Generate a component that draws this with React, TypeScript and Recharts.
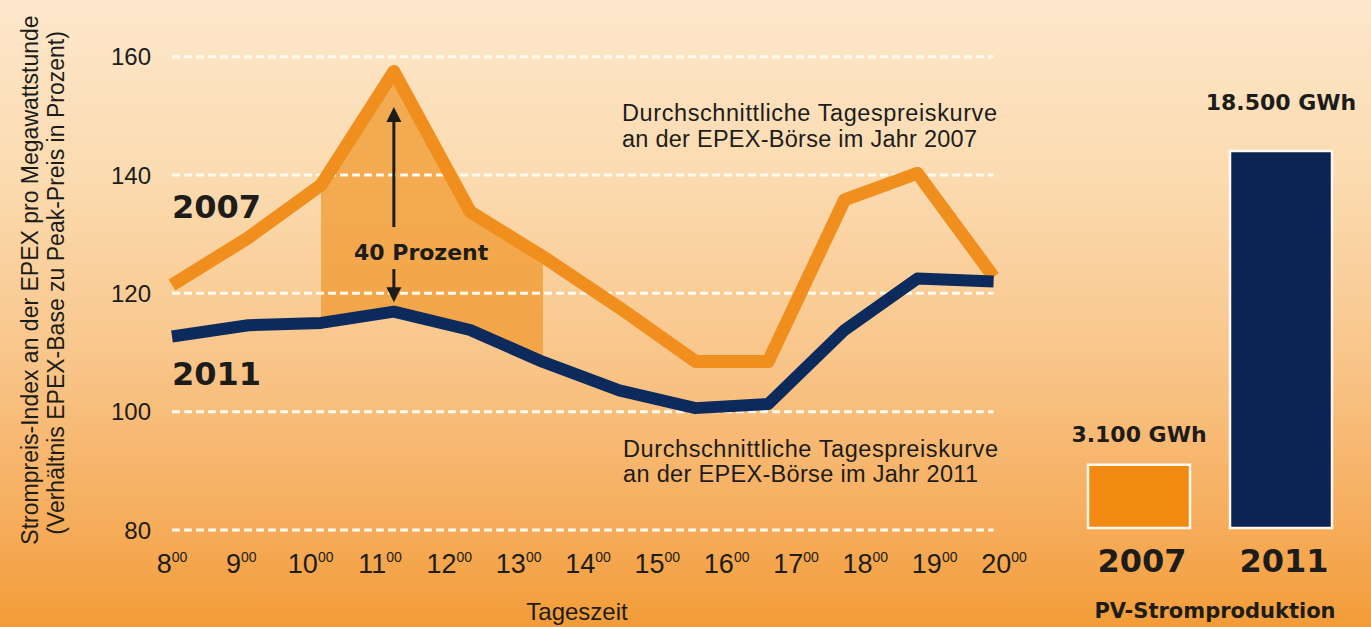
import React from 'react'
import {
  ComposedChart,
  Line,
  Area,
  XAxis,
  YAxis,
  ReferenceLine,
  Label,
  BarChart,
  Bar,
  Cell,
  LabelList,
} from 'recharts'

// Tageszeit of each measured point (hours) and the two day curves
const hours = [8, 9.1, 10.15, 11.2, 12.3, 13.35, 14.45, 15.55, 16.6, 17.7, 18.75, 19.85]
const price2007 = [121.4, 129.4, 138.3, 157.5, 133.8, 126.2, 117.6, 108.5, 108.5, 135.8, 140.3, 122.8]
const price2011 = [112.7, 114.6, 115.0, 116.9, 113.8, 108.4, 103.6, 100.6, 101.3, 113.8, 122.5, 122.0]
const hourTicks = [8, 9, 10, 11, 12, 13, 14, 15, 16, 17, 18, 19, 20]
const priceTicks = [80, 100, 120, 140, 160]
// first and last index of the shaded peak window
const peakWindow = [2, 5]
// arrow: top tip, top tail, bottom tail, bottom tip (index units)
const arrowSpan = [151.5, 131.2, 124.1, 118.5]

// PV-Stromproduktion
const pvYears = ['2007', '2011']
const pvGwh = [3100, 18500]
const pvColors = ['#f28a12', '#0b2453']
const pvLabelGap = [23, 41]

const ORANGE = '#f08e1e'
const NAVY = '#0c2a5c'
const INK = '#1c1c1a'
const SANS = '"Liberation Sans", Arial, sans-serif'
const BOLD = '"DejaVu Sans", sans-serif'

const priceData = hours.map((h, i) => ({
  hour: h,
  y2007: price2007[i],
  y2011: price2011[i],
  gap: i >= peakWindow[0] && i <= peakWindow[1] ? [price2011[i], price2007[i]] : null,
}))

const pvData = pvYears.map((y, i) => ({ year: y, gwh: pvGwh[i] }))

const fmtGwh = (v: number) => String(v).replace(/\B(?=(\d{3})+(?!\d))/g, '.') + ' GWh'

function HourTick(props: any) {
  const { x, y, payload } = props
  return (
    <text x={x} y={y + 43} textAnchor="middle" fill={INK} fontFamily={SANS} fontSize={27}>
      <tspan>{payload.value}</tspan>
      <tspan dy={-11} fontSize={14}>00</tspan>
    </text>
  )
}

function YearTick(props: any) {
  const { x, y, payload } = props
  return (
    <text x={x + 3} y={y + 44} textAnchor="middle" fill={INK} fontFamily={BOLD} fontWeight="bold" fontSize={32}>
      {payload.value}
    </text>
  )
}

function ArrowShape(props: any) {
  const { x1, y1, y2 } = props
  const dir = Math.sign(y1 - y2) // tip is the first point
  const head = 15
  return (
    <g>
      <line x1={x1} y1={y2} x2={x1} y2={y1 - dir * head * 0.7} stroke={INK} strokeWidth={3} />
      <polygon points={`${x1},${y1} ${x1 - 7.5},${y1 - dir * head} ${x1 + 7.5},${y1 - dir * head}`} fill={INK} />
    </g>
  )
}

function GwhLabel(props: any) {
  const { x, y, width, value, index } = props
  return (
    <text x={x + width / 2} y={y - pvLabelGap[index]} textAnchor="middle" fill={INK} fontFamily={BOLD} fontWeight="bold" fontSize={22}>
      {fmtGwh(value)}
    </text>
  )
}

export default function App() {
  const peakHour = hours[price2007.indexOf(Math.max(...price2007))]
  return (
    <div
      style={{
        position: 'absolute',
        left: 0,
        top: 0,
        width: 1371,
        height: 627,
        overflow: 'hidden',
        background: 'linear-gradient(to bottom, #fde7cb 0%, #fbdbb0 28%, #f9c78d 55%, #f6b062 80%, #f39c38 100%)',
      }}
    >
      <div style={{ position: 'absolute', left: 0, top: 0 }}>
        <ComposedChart width={1040} height={627} data={priceData} margin={{ top: 56.7, right: 36, bottom: 0, left: 0 }}>
          <XAxis
            dataKey="hour"
            type="number"
            domain={[8, 20]}
            ticks={hourTicks}
            interval={0}
            height={97}
            tickLine={false}
            axisLine={false}
            tickSize={0}
            tickMargin={0}
            tick={<HourTick />}
          >
            <Label
              content={() => (
                <text x={577} y={620} textAnchor="middle" fill={INK} fontFamily={SANS} fontSize={24}>
                  Tageszeit
                </text>
              )}
            />
          </XAxis>
          <YAxis
            type="number"
            domain={[80, 160]}
            ticks={priceTicks}
            width={172}
            tickLine={false}
            axisLine={false}
            tickSize={0}
            tickMargin={21}
            tick={{ fill: INK, fontSize: 24, fontFamily: SANS }}
          >
            <Label
              content={() => (
                <g fill={INK} fontFamily={SANS} fontSize={23}>
                  <text x={38} y={280} transform="rotate(-90 38 280)" textAnchor="middle">
                    Strompreis-Index an der EPEX pro Megawattstunde
                  </text>
                  <text x={64} y={283} transform="rotate(-90 64 283)" textAnchor="middle">
                    (Verhältnis EPEX-Base zu Peak-Preis in Prozent)
                  </text>
                </g>
              )}
            />
          </YAxis>
          {priceTicks.map((v) => (
            <ReferenceLine
              key={v}
              segment={[
                { x: hours[0], y: v },
                { x: hours[hours.length - 1], y: v },
              ]}
              stroke="#fffaf0"
              strokeWidth={3}
              strokeDasharray="8 4"
            />
          ))}
          <Area
            dataKey="gap"
            type="linear"
            fill="#f09a30"
            fillOpacity={0.75}
            stroke="none"
            connectNulls={false}
            dot={false}
            activeDot={false}
            isAnimationActive={false}
          />
          <Line
            dataKey="y2007"
            type="linear"
            stroke={ORANGE}
            strokeWidth={13}
            strokeLinejoin="round"
            dot={false}
            activeDot={false}
            isAnimationActive={false}
          />
          <Line
            dataKey="y2011"
            type="linear"
            stroke={NAVY}
            strokeWidth={12}
            strokeLinejoin="round"
            dot={false}
            activeDot={false}
            isAnimationActive={false}
          />
          <ReferenceLine
            segment={[
              { x: peakHour, y: arrowSpan[0] },
              { x: peakHour, y: arrowSpan[1] },
            ]}
            shape={ArrowShape}
          />
          <ReferenceLine
            segment={[
              { x: peakHour, y: arrowSpan[3] },
              { x: peakHour, y: arrowSpan[2] },
            ]}
            shape={ArrowShape}
          />
        </ComposedChart>
      </div>

      <div style={{ position: 'absolute', left: 1040, top: 0 }}>
        <BarChart width={331} height={627} data={pvData} margin={{ top: 151, right: 19, bottom: 0, left: 28 }}>
          <XAxis
            dataKey="year"
            height={99}
            interval={0}
            tickLine={false}
            axisLine={false}
            tickSize={0}
            tickMargin={0}
            tick={<YearTick />}
          >
            <Label
              content={(p: any) => (
                <text
                  x={p.viewBox.x + p.viewBox.width / 2 + 5}
                  y={618}
                  textAnchor="middle"
                  fill={INK}
                  fontFamily={BOLD}
                  fontWeight="bold"
                  fontSize={21}
                >
                  PV-Stromproduktion
                </text>
              )}
            />
          </XAxis>
          <YAxis hide type="number" domain={[0, 18500]} />
          <Bar dataKey="gwh" barSize={102} stroke="#fff8ee" strokeWidth={2.5} isAnimationActive={false}>
            {pvData.map((d, i) => (
              <Cell key={d.year} fill={pvColors[i]} />
            ))}
            <LabelList dataKey="gwh" content={GwhLabel} />
          </Bar>
        </BarChart>
      </div>

      <svg
        width={1371}
        height={627}
        style={{ position: 'absolute', left: 0, top: 0, pointerEvents: 'none' }}
      >
        <g fill={INK} fontFamily={BOLD} fontWeight="bold">
          <text x={172} y={218} fontSize={32}>2007</text>
          <text x={172} y={385} fontSize={32}>2011</text>
          <text x={354} y={260} fontSize={22}>40 Prozent</text>
        </g>
        <g fill={INK} fontFamily={SANS} fontSize={23.5}>
          <text x={622} y={121} textLength={375}>Durchschnittliche Tagespreiskurve</text>
          <text x={622} y={147} textLength={355}>an der EPEX-Börse im Jahr 2007</text>
          <text x={623} y={457} textLength={375}>Durchschnittliche Tagespreiskurve</text>
          <text x={623} y={482} textLength={355}>an der EPEX-Börse im Jahr 2011</text>
        </g>
      </svg>
    </div>
  )
}
